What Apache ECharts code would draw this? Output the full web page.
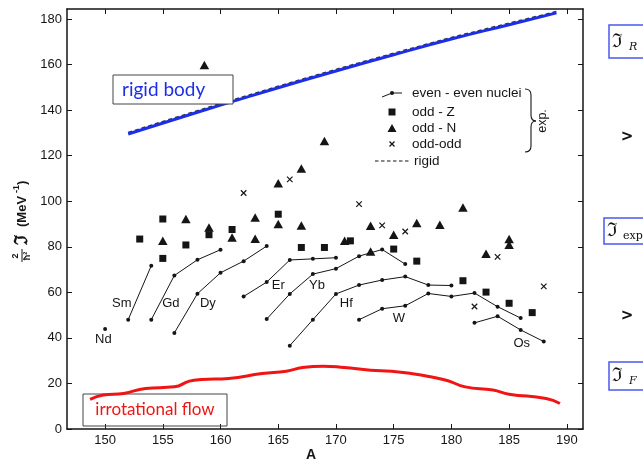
<!DOCTYPE html>
<html><head><meta charset="utf-8">
<script src="https://cdn.jsdelivr.net/npm/echarts@6/dist/echarts.min.js"></script>
<style>html,body{margin:0;padding:0;background:#fff}#c{width:643px;height:463px}</style>
</head><body><div id="c"></div>
<script>
// ---- data ----
const xTicks = [150,155,160,165,170,175,180,185,190];
const yTicks = [0,20,40,60,80,100,120,140,160,180];

const Sm = [[152,48.0],[154,71.7]];
const Gd = [[154,48.0],[156,67.4],[158,74.3],[160,78.7]];
const Dy = [[156,42.2],[158,59.4],[160,68.6],[162,73.7],[164,80.3]];
const Er = [[162,58.2],[164,64.5],[166,74.2],[168,74.7],[170,75.2]];
const Yb = [[164,48.3],[166,59.3],[168,68.0],[170,70.4],[172,75.9],[174,78.8],[176,72.4]];
const Hf = [[166,36.6],[168,48.0],[170,59.3],[172,63.2],[174,65.4],[176,66.9],[178,63.2],[180,63.0]];
const W  = [[172,48.0],[174,52.8],[176,54.1],[178,59.5],[180,58.2],[182,59.7],[184,53.7],[186,48.7]];
const Os = [[182,46.6],[184,49.5],[186,43.5],[188,38.4]];
const Nd = [[150,43.9]];

const oddZ = [[153,83.4],[155,92.2],[155,74.9],[157,80.8],[159,85.3],[161,87.6],[165,94.3],
  [167,79.7],[169,79.7],[171.25,82.6],[175,79.0],[177,73.7],[181,65.1],[183,60.1],[185,55.2],[187,51.1]];
const oddN = [[155,82.6],[157,92.2],[159,88.5],[161,84.1],[163,92.9],[163,83.5],[165,90.0],[165,107.9],
  [158.6,159.8],[167,114.4],[169,126.5],[167,89.3],[170.75,82.6],[173,77.9],[173,89.2],[175,85.3],
  [177,90.4],[179,89.7],[181,97.2],[183,76.9],[185,83.4],[185,80.9]];
const oddOdd = [[162,103.6],[166,109.6],[172,98.7],[174,89.4],[176,86.7],[182,53.8],[184,75.6],[188,62.6]];

const rigidBody = [[152,129.5],[156,135.9],[160,142.2],[165,149.8],[170,157.2],[175,164.3],[180,171.2],[185,177.5],[189.1,182.7]];
const rigidDashed = [[152,130.2],[156,136.6],[160,142.9],[165,150.5],[170,157.9],[175,165.0],[180,171.9],[185,178.2],[189.2,183.4]];
const irrotational = [[148.7,13.0],[149.85,14.9],[151.6,15.6],[153.5,17.8],[156.0,18.5],[157.3,21.0],[158.35,21.75],
  [160.7,22.2],[163.6,24.4],[165.7,25.4],[167.1,27.0],[168.9,27.6],[170.7,27.0],[173.0,25.8],[174.8,25.4],
  [176.5,24.4],[178.6,22.5],[179.7,21.2],[181.2,18.5],[183.6,17.1],[185.0,15.3],[188.2,13.4],[189.4,11.2]];

const elementLabels = [[151.45,55.3,'Sm'],[155.7,55.3,'Gd'],[158.9,55.3,'Dy'],[165.0,62.9,'Er'],
  [168.35,62.9,'Yb'],[170.9,55.0,'Hf'],[175.45,48.75,'W'],[186.1,37.5,'Os'],[149.85,39.2,'Nd']];

// ---- chart ----
const chart = echarts.init(document.getElementById('c'));
const FONT = 'Liberation Sans';
const INK = '#151515';
const crossPath = 'path://M0,0L10,10M10,0L0,10';

function eeSeries(d){
  return {type:'line', data:d, symbol:'circle', symbolSize:4, showSymbol:true,
    lineStyle:{color:INK,width:1}, itemStyle:{color:INK,opacity:1}, z:5};
}
const axCommon = {
  axisLine:{show:true,onZero:false,lineStyle:{color:INK,width:1.5}},
  splitLine:{show:false}
};
const braceStyle = {stroke:INK,lineWidth:1.1,fill:null};
const LEG = '13.5px Liberation Sans';

chart.setOption({
  animation:false,
  grid:{left:67,right:60,top:9,bottom:34},
  xAxis:[
    Object.assign({type:'value',min:146.7,max:191.4,position:'bottom',
      axisTick:{show:true,inside:true,length:5,customValues:xTicks,lineStyle:{color:INK}},
      axisLabel:{customValues:xTicks,color:INK,fontFamily:FONT,fontSize:13,margin:5}},axCommon),
    Object.assign({type:'value',min:146.7,max:191.4,position:'top',
      axisTick:{show:true,inside:true,length:5,customValues:xTicks,lineStyle:{color:INK}},
      axisLabel:{show:false}},axCommon)
  ],
  yAxis:[
    Object.assign({type:'value',min:0,max:184.4,position:'left',
      axisTick:{show:true,inside:true,length:5,customValues:yTicks,lineStyle:{color:INK}},
      axisLabel:{customValues:yTicks,color:INK,fontFamily:FONT,fontSize:13,margin:5}},axCommon),
    Object.assign({type:'value',min:0,max:184.4,position:'right',
      axisTick:{show:true,inside:true,length:5,customValues:yTicks,lineStyle:{color:INK}},
      axisLabel:{show:false}},axCommon)
  ],
  series:[
    {type:'line',data:rigidDashed,symbol:'none',lineStyle:{color:'#333',width:1.5,type:[4,3]},z:2},
    {type:'line',data:rigidBody,symbol:'none',smooth:true,lineStyle:{color:'#1c2ee8',width:3},z:3},
    {type:'line',data:irrotational,symbol:'none',smooth:true,lineStyle:{color:'#f01414',width:3},z:12},
    eeSeries(Sm),eeSeries(Gd),eeSeries(Dy),eeSeries(Er),eeSeries(Yb),eeSeries(Hf),eeSeries(W),eeSeries(Os),
    {type:'scatter',data:Nd,symbol:'circle',symbolSize:4,itemStyle:{color:INK,opacity:1},z:5},
    {type:'scatter',data:oddZ,symbol:'rect',symbolSize:7,itemStyle:{color:INK,opacity:1},z:5},
    {type:'scatter',data:oddN,symbol:'triangle',symbolSize:[9.5,8.5],itemStyle:{color:INK,opacity:1},z:5},
    {type:'scatter',data:oddOdd,symbol:crossPath,symbolSize:5.5,itemStyle:{color:'none',borderColor:INK,borderWidth:1.2,opacity:1},z:5},
    {type:'scatter',data:elementLabels,symbolSize:0,z:6,itemStyle:{opacity:1},
      label:{show:true,position:'inside',formatter:p=>p.data[2],color:INK,fontFamily:FONT,fontSize:13}}
  ],
  graphic:[
    // text boxes
    {type:'rect',shape:{x:113,y:75,width:120,height:29},style:{fill:'#fff',stroke:'#444',lineWidth:1},z:10},
    {type:'text',x:122,y:90,style:{text:'rigid body',fill:'#1c2ee8',font:'19px Lato',align:'left',verticalAlign:'middle'},z:11},
    {type:'rect',shape:{x:83,y:394,width:144,height:32},style:{fill:null,stroke:'#444',lineWidth:1},z:10},
    {type:'text',x:155,y:410,style:{text:'irrotational flow',fill:'#f01414',font:'17px Lato',align:'center',verticalAlign:'middle'},z:11},
    // legend
    {type:'polyline',shape:{points:[[382,97],[392,93],[402,93]]},style:{stroke:INK,lineWidth:1,fill:null},z:10},
    {type:'circle',shape:{cx:392,cy:93,r:2},style:{fill:INK},z:10},
    {type:'rect',shape:{x:388.5,y:108.5,width:7,height:7},style:{fill:INK},z:10},
    {type:'polygon',shape:{points:[[392,124],[396.5,132],[387.5,132]]},style:{fill:INK},z:10},
    {type:'line',shape:{x1:389.5,y1:141.5,x2:394.5,y2:146.5},style:{stroke:INK,lineWidth:1.2},z:10},
    {type:'line',shape:{x1:394.5,y1:141.5,x2:389.5,y2:146.5},style:{stroke:INK,lineWidth:1.2},z:10},
    {type:'line',shape:{x1:375,y1:161,x2:409,y2:161},style:{stroke:INK,lineWidth:1.2,lineDash:[3.5,2.5]},z:10},
    {type:'text',x:412,y:93,style:{text:'even - even nuclei',fill:INK,font:LEG,verticalAlign:'middle'},z:10},
    {type:'text',x:412,y:112,style:{text:'odd - Z',fill:INK,font:LEG,verticalAlign:'middle'},z:10},
    {type:'text',x:412,y:128,style:{text:'odd - N',fill:INK,font:LEG,verticalAlign:'middle'},z:10},
    {type:'text',x:412,y:144,style:{text:'odd-odd',fill:INK,font:LEG,verticalAlign:'middle'},z:10},
    {type:'text',x:414,y:161,style:{text:'rigid',fill:INK,font:LEG,verticalAlign:'middle'},z:10},
    {type:'bezierCurve',shape:{x1:525,y1:89,cpx1:531,cpy1:89,x2:531,y2:95},style:braceStyle,z:10},
    {type:'line',shape:{x1:531,y1:95,x2:531,y2:115},style:braceStyle,z:10},
    {type:'bezierCurve',shape:{x1:531,y1:115,cpx1:531,cpy1:121,x2:536,y2:121},style:braceStyle,z:10},
    {type:'bezierCurve',shape:{x1:536,y1:121,cpx1:531,cpy1:121,x2:531,y2:127},style:braceStyle,z:10},
    {type:'line',shape:{x1:531,y1:127,x2:531,y2:146},style:braceStyle,z:10},
    {type:'bezierCurve',shape:{x1:531,y1:146,cpx1:531,cpy1:152,x2:525,y2:152},style:braceStyle,z:10},
    {type:'text',x:543,y:121,rotation:Math.PI/2,style:{text:'exp.',fill:INK,font:'12.5px Liberation Sans',align:'center',verticalAlign:'middle'},z:10},
    // axis titles
    {type:'text',x:311,y:455,style:{text:'A',fill:INK,font:'bold 14px Liberation Sans',align:'center',verticalAlign:'middle'}},
    {type:'group',x:22,y:263,rotation:Math.PI/2,children:[
      {type:'text',x:7,y:-6,style:{text:'2',fill:INK,font:'bold 9px Liberation Sans',align:'center',verticalAlign:'middle'}},
      {type:'line',shape:{x1:1,y1:0,x2:14,y2:0},style:{stroke:INK,lineWidth:1}},
      {type:'text',x:7,y:6,style:{text:'ħ²',fill:INK,font:'bold 9px Liberation Sans',align:'center',verticalAlign:'middle'}},
      {type:'text',x:18,y:0,style:{text:'ℑ',fill:INK,font:'bold 18px DejaVu Serif',align:'left',verticalAlign:'middle'}},
      {type:'text',x:36,y:0,style:{text:'(MeV',fill:INK,font:'bold 13px Liberation Sans',align:'left',verticalAlign:'middle'}},
      {type:'text',x:70,y:-5,style:{text:'-1',fill:INK,font:'bold 9px Liberation Sans',align:'left',verticalAlign:'middle'}},
      {type:'text',x:78,y:0,style:{text:')',fill:INK,font:'bold 13px Liberation Sans',align:'left',verticalAlign:'middle'}}
    ]},
    // right side annotations
    {type:'rect',shape:{x:609,y:25,width:40,height:33},style:{fill:null,stroke:'#4a5af0',lineWidth:1.5}},
    {type:'text',x:612,y:42,style:{text:'ℑ',fill:'#111',font:'19px DejaVu Serif',verticalAlign:'middle'}},
    {type:'text',x:629,y:47,style:{text:'R',fill:'#111',font:'italic 11px DejaVu Serif',verticalAlign:'middle'}},
    {type:'text',x:627,y:137,style:{text:'>',fill:'#111',font:'bold 15px DejaVu Sans',align:'center',verticalAlign:'middle'}},
    {type:'rect',shape:{x:604,y:218,width:45,height:26},style:{fill:null,stroke:'#4a5af0',lineWidth:1.5}},
    {type:'text',x:607,y:231,style:{text:'ℑ',fill:'#111',font:'19px DejaVu Serif',verticalAlign:'middle'}},
    {type:'text',x:623,y:236,style:{text:'exp',fill:'#111',font:'11px DejaVu Serif',verticalAlign:'middle'}},
    {type:'text',x:627,y:316,style:{text:'>',fill:'#111',font:'bold 15px DejaVu Sans',align:'center',verticalAlign:'middle'}},
    {type:'rect',shape:{x:609,y:362,width:40,height:28},style:{fill:null,stroke:'#4a5af0',lineWidth:1.5}},
    {type:'text',x:612,y:376,style:{text:'ℑ',fill:'#111',font:'19px DejaVu Serif',verticalAlign:'middle'}},
    {type:'text',x:629,y:381,style:{text:'F',fill:'#111',font:'italic 11px DejaVu Serif',verticalAlign:'middle'}}
  ]
});
</script></body></html>
